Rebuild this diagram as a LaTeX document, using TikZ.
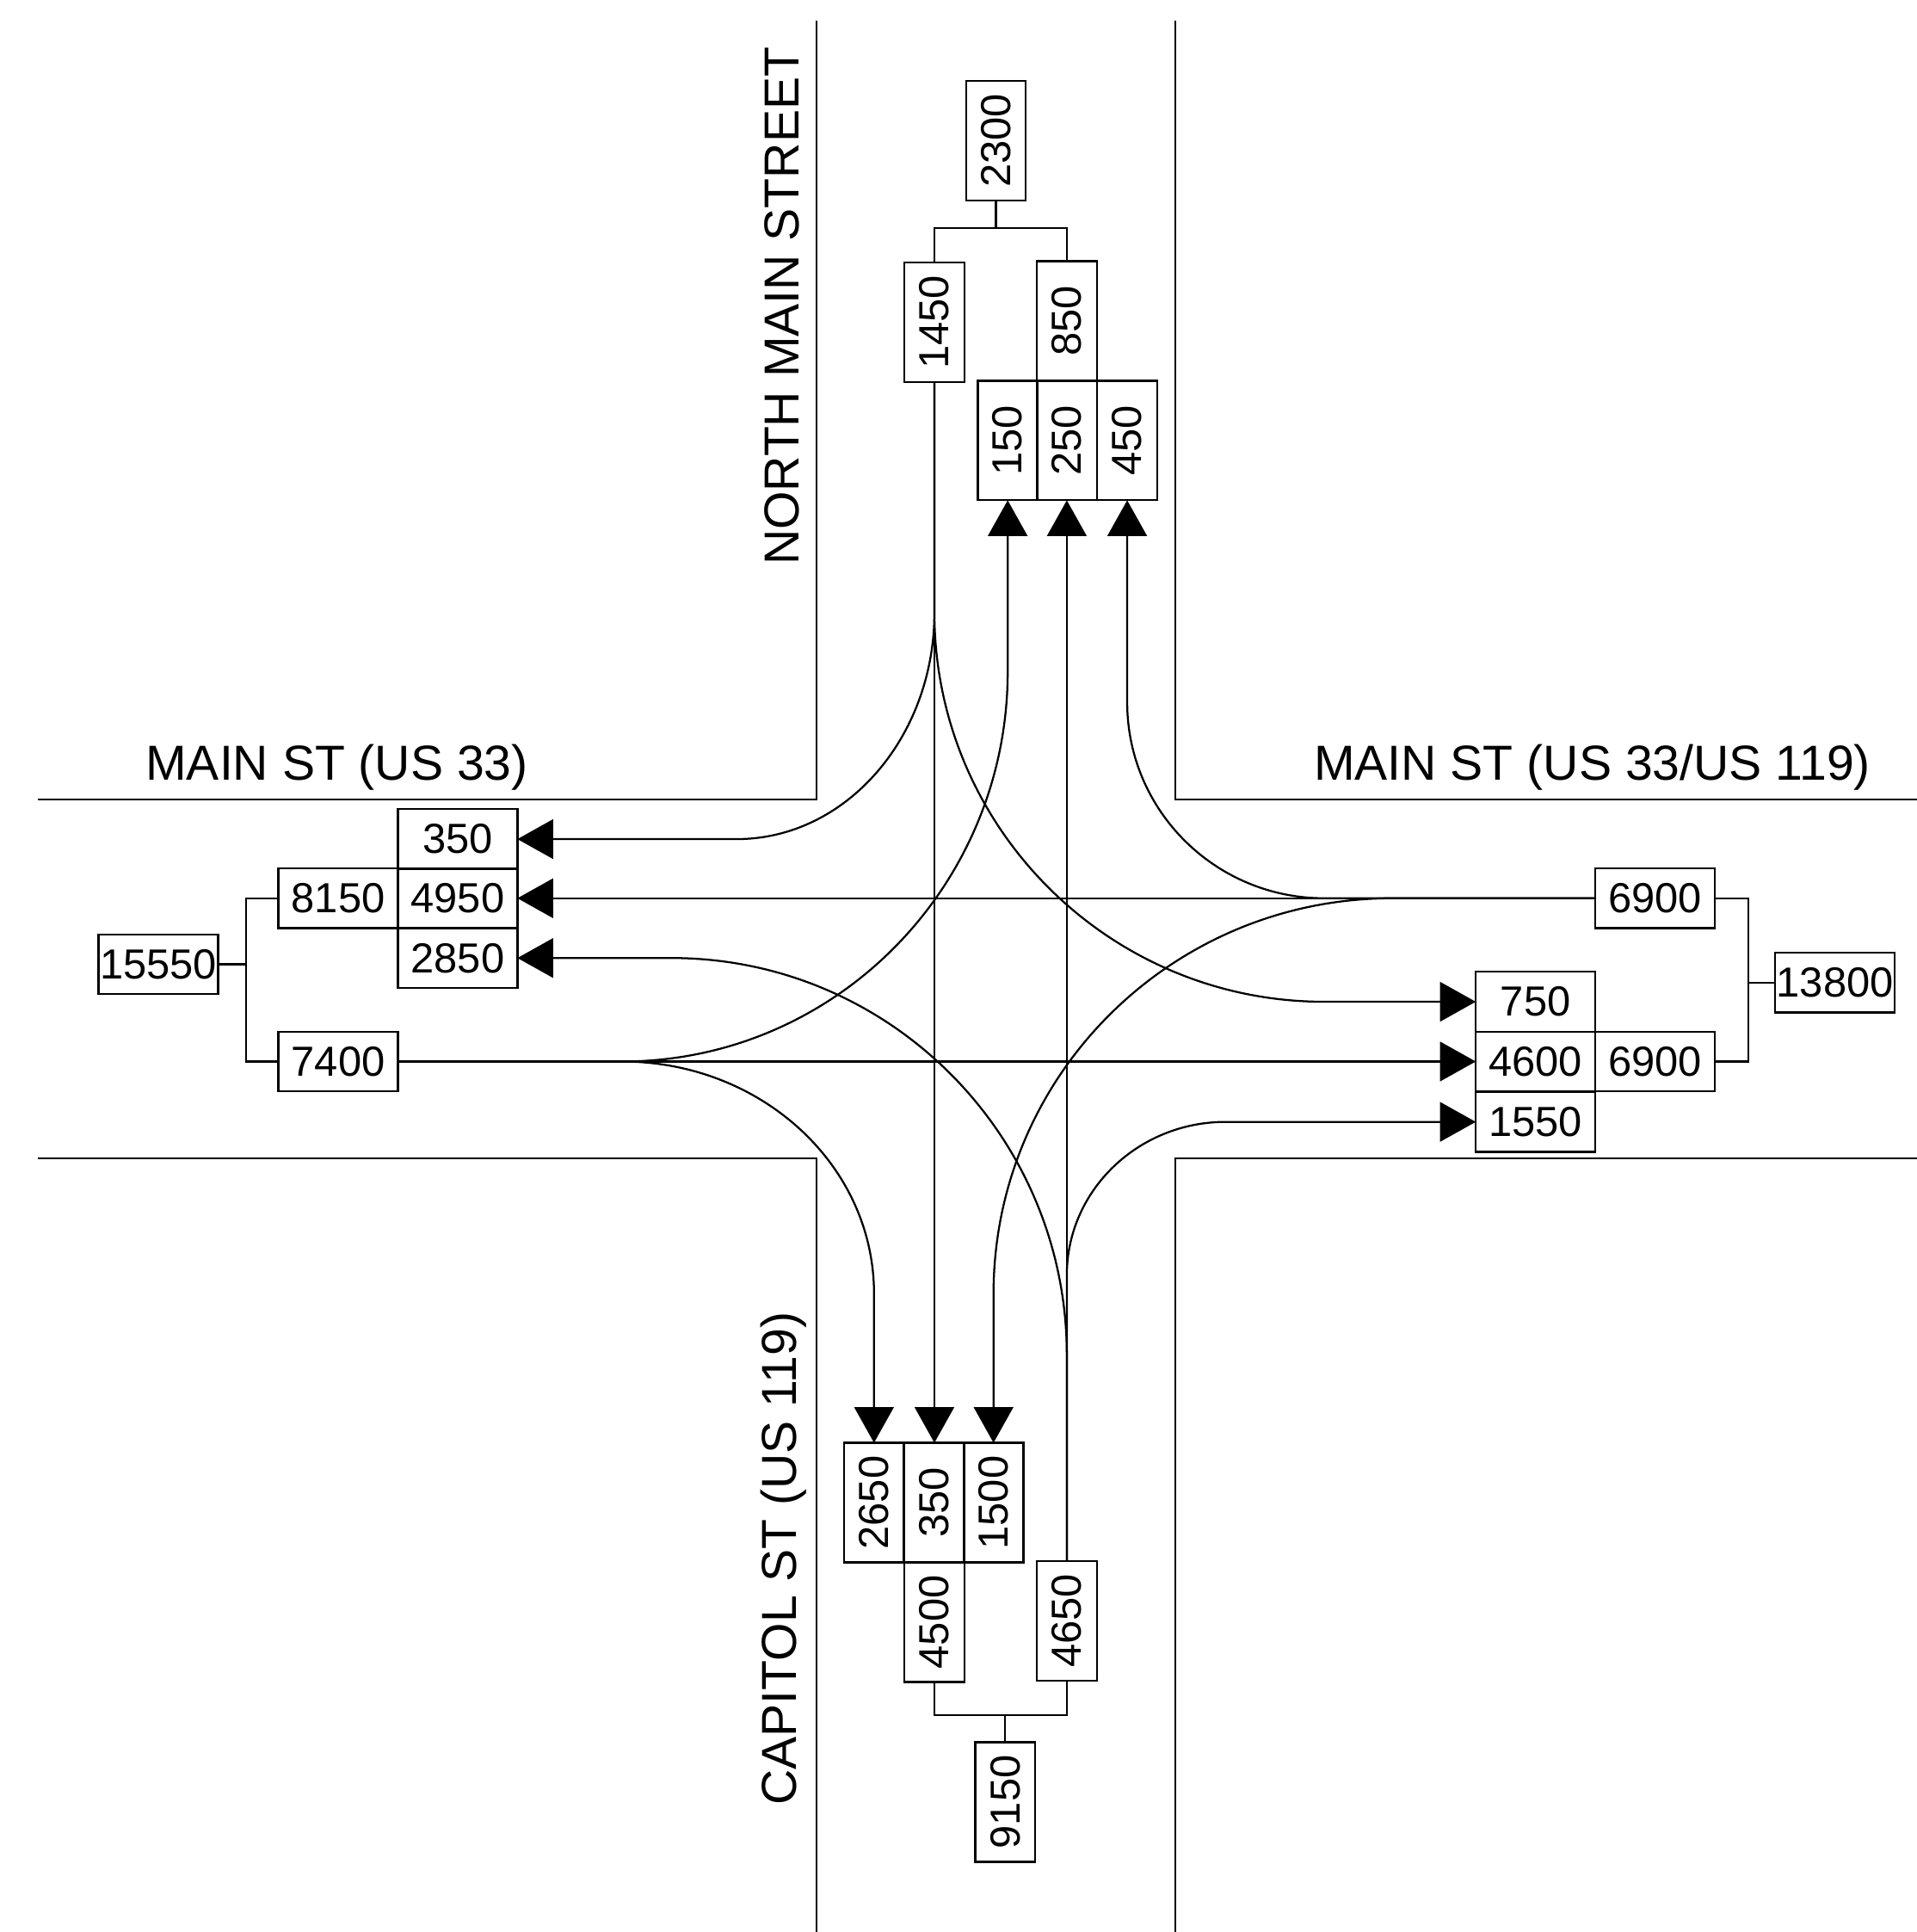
\documentclass[tikz,border=0pt]{standalone}
\usepackage{fontspec}
\setmainfont{Liberation Sans}
\usetikzlibrary{arrows.meta,calc}

\tikzset{
  road/.style={line width=0.45pt},
  cnt/.style={draw, line width=0.45pt, inner sep=0pt, outer sep=0pt, minimum width=0.97cm, minimum height=0.485cm, font=\fontsize{9.7}{12}\selectfont},
  cntv/.style={cnt, rotate=90},
  roadname/.style={inner sep=0pt, font=\fontsize{11.35}{13}\selectfont},
  bus/.style={line width=0.45pt},
  flow/.style={line width=0.45pt, -{Triangle[length=0.29cm,width=0.32cm]}},
}

\begin{document}
\begin{tikzpicture}[x=0.01cm, y=-0.01cm]
  \useasboundingbox (0,0) rectangle (1556,1568);

  %% ── Road edges ─────────────────────────────────────
  \draw[road] (663,17) -- (663,649) -- (31,649);
  \draw[road] (954,17) -- (954,649) -- (1556,649);
  \draw[road] (31,940) -- (663,940) -- (663,1568);
  \draw[road] (1556,940) -- (954,940) -- (954,1568);

  %% Road names
  \node[roadname, rotate=90] (northname) at (635,248.5) {NORTH MAIN STREET};
  \node[roadname, rotate=90] (capitolname) at (636,1265) {CAPITOL ST (US 119)};
  \node[roadname] (westname) at (273.5,623) {MAIN ST (US 33)};
  \node[roadname] (eastname) at (1292.5,623) {MAIN ST (US 33/US 119)};

  %% ── North leg ──────────────────────────────────────
  \node[cntv] (ntotal) at (808.5,114) {2300};
  \node[cntv] (nin) at (758.5,261.5) {1450};
  \node[cntv] (nout) at (866,260.5) {850};
  \node[cntv] (nleft) at (818,357.5) {150};
  \node[cntv] (nthru) at (866,357.5) {250};
  \node[cntv] (nright) at (915,357.5) {450};
  \coordinate (nbus) at (808.5,185);
  \draw[bus] (ntotal.west) -- (nbus);
  \draw[bus] (nin.east) |- (nbus) -| (nout.east);

  %% ── West leg ───────────────────────────────────────
  \node[cnt] (wtotal) at (128.5,782.5) {15550};
  \node[cnt] (wout) at (274.5,729) {8150};
  \node[cnt] (win) at (274.5,861.5) {7400};
  \node[cnt] (wright) at (371.5,681) {350};
  \node[cnt] (wthru) at (371.5,729) {4950};
  \node[cnt] (wleft) at (371.5,777.5) {2850};
  \coordinate (wbus) at (200,782.5);
  \draw[bus] (wtotal.east) -- (wbus);
  \draw[bus] (wout.west) -| (wbus) |- (win.west);

  %% ── East leg ───────────────────────────────────────
  \node[cnt] (etotal) at (1489.5,797.5) {13800};
  \node[cnt] (ein) at (1343.5,729) {6900};
  \node[cnt] (eout) at (1343.5,861.5) {6900};
  \node[cnt] (eleft) at (1246.5,813) {750};
  \node[cnt] (ethru) at (1246.5,861.5) {4600};
  \node[cnt] (eright) at (1246.5,910.5) {1550};
  \coordinate (ebus) at (1419,797.5);
  \draw[bus] (etotal.west) -- (ebus);
  \draw[bus] (ein.east) -| (ebus) |- (eout.east);

  %% ── South leg ──────────────────────────────────────
  \node[cntv] (stotal) at (816,1462.5) {9150};
  \node[cntv] (sout) at (758.5,1316.5) {4500};
  \node[cntv] (sin) at (866,1315.5) {4650};
  \node[cntv] (sleft) at (709.5,1219.5) {2650};
  \node[cntv] (sthru) at (758.5,1219.5) {350};
  \node[cntv] (sright) at (806.5,1219.5) {1500};
  \coordinate (sbus) at (816,1392);
  \draw[bus] (stotal.east) -- (sbus);
  \draw[bus] (sout.west) |- (sbus) -| (sin.west);

  %% ── Movements from the north ───────────────────────
  \draw[flow] (nin.west) -- (758.5,497) .. controls (758.5,598.6) and (686.6,681) .. (598,681) -- (wright.east);
  \draw[flow] (nin.west) -- (sthru.east);
  \draw[flow] (nin.west) -- (758.5,497) .. controls (758.5,671.5) and (900.2,813) .. (1075,813) -- (eleft.west);

  %% ── Movements from the west ────────────────────────
  \draw[flow] (win.east) -- (505,861.5) .. controls (677.9,861.5) and (818,719.5) .. (818,545) -- (nleft.west);
  \draw[flow] (win.east) -- (ethru.west);
  \draw[flow] (win.east) -- (505,861.5) .. controls (617.9,861.5) and (709.5,945.6) .. (709.5,1050) -- (sleft.east);

  %% ── Movements from the east ────────────────────────
  \draw[flow] (ein.west) -- (1075,729) .. controls (986.6,729) and (915,657.8) .. (915,570) -- (nright.west);
  \draw[flow] (ein.west) -- (wthru.east);
  \draw[flow] (ein.west) -- (1130,729) .. controls (951.3,729) and (806.5,872.7) .. (806.5,1050) -- (sright.east);

  %% ── Movements from the south ───────────────────────
  \draw[flow] (sin.east) -- (866,1100) .. controls (866,921.9) and (722.3,777.5) .. (545,777.5) -- (wleft.east);
  \draw[flow] (sin.east) -- (nthru.west);
  \draw[flow] (sin.east) -- (866,1035) .. controls (866,966.2) and (923.8,910.5) .. (995,910.5) -- (eright.west);
\end{tikzpicture}
\end{document}
